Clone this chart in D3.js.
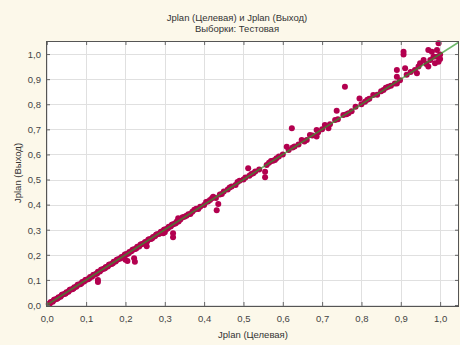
<!DOCTYPE html>
<html>
<head>
<meta charset="utf-8">
<script src="https://cdn.jsdelivr.net/npm/d3@7"></script>
<style>
body{margin:0;background:#fcf8ea;}
svg{display:block;font-family:"Liberation Sans",Arial,sans-serif;}
</style>
</head>
<body>
<script>
const titleText = "Jplan (Целевая) и Jplan (Выход)";
const subtitleText = "Выборки: Тестовая";
const xLabel = "Jplan (Целевая)";
const yLabel = "Jplan (Выход)";
const tickValues = [0,0.1,0.2,0.3,0.4,0.5,0.6,0.7,0.8,0.9,1.0];
const fitLine = [0, 1.06];

const targetVals = [
0.005,0.01,0.015,0.02,0.025,0.03,0.035,0.04,0.045,0.05,0.055,0.06,0.065,0.07,0.075,0.08,0.085,0.09,0.095,0.10,
0.105,0.11,0.115,0.12,0.125,0.13,0.135,0.14,0.145,0.15,0.155,0.16,0.165,0.17,0.175,0.18,0.185,0.19,0.195,0.20,
0.205,0.21,0.215,0.22,0.225,0.23,0.235,0.24,0.245,0.25,0.255,0.26,0.265,0.27,0.275,0.28,0.285,0.29,0.295,0.30,
0.305,0.31,0.315,0.32,0.325,0.33,0.335,0.34,
0.008,0.018,0.028,0.038,0.048,0.058,0.068,0.078,0.088,0.098,0.108,0.118,0.128,0.138,0.148,0.158,0.168,0.178,0.188,0.198,
0.208,0.218,0.228,0.238,0.248,0.258,0.268,0.278,0.288,0.298,0.308,0.318,0.328,0.338,
0.13,0.13,0.20,0.205,0.222,0.224,0.254,0.296,0.30,0.321,0.321,0.334,
0.345,0.35,0.355,0.36,0.365,0.37,0.375,0.38,0.385,0.39,0.40,0.405,0.41,0.415,0.42,0.423,0.43,0.432,0.436,0.44,
0.445,0.45,0.46,0.465,0.47,0.48,0.485,0.49,0.50,0.505,0.512,0.515,0.52,0.525,0.53,0.54,0.555,0.555,0.559,0.565,
0.57,0.575,0.58,0.584,0.59,0.60,0.61,0.615,0.623,0.625,0.63,0.64,0.648,0.655,0.661,
0.669,0.675,0.686,0.686,0.69,0.70,0.707,0.716,0.72,0.733,0.737,0.74,0.754,0.758,0.762,0.767,0.775,0.785,0.795,0.80,
0.809,0.815,0.82,0.83,0.84,0.85,0.856,0.862,0.868,0.875,0.885,0.89,0.89,0.89,0.898,0.907,0.907,0.911,0.915,0.925,
0.936,0.941,0.945,0.949,0.958,0.965,0.97,0.97,0.975,0.979,0.983,0.987,0.992,0.992,0.996,0.996,1.0,1.0
];
const outputVals = [
0.004,0.012,0.013,0.022,0.024,0.031,0.033,0.042,0.044,0.051,0.053,0.062,0.063,0.071,0.073,0.082,0.083,0.092,0.094,0.101,
0.103,0.112,0.113,0.121,0.124,0.132,0.133,0.141,0.144,0.151,0.153,0.161,0.163,0.172,0.173,0.181,0.184,0.191,0.193,0.202,
0.203,0.211,0.214,0.221,0.223,0.232,0.233,0.242,0.244,0.251,0.253,0.262,0.263,0.271,0.274,0.282,0.283,0.292,0.294,0.301,
0.303,0.312,0.313,0.321,0.324,0.332,0.333,0.342,
0.006,0.020,0.027,0.040,0.046,0.060,0.066,0.080,0.086,0.100,0.106,0.120,0.126,0.140,0.146,0.160,0.166,0.180,0.186,0.200,
0.206,0.220,0.226,0.240,0.246,0.260,0.266,0.280,0.286,0.300,0.306,0.320,0.326,0.340,
0.100,0.092,0.180,0.175,0.186,0.172,0.234,0.286,0.290,0.286,0.270,0.346,
0.350,0.352,0.356,0.362,0.363,0.372,0.380,0.384,0.383,0.392,0.398,0.410,0.412,0.418,0.425,0.431,0.426,0.378,0.402,0.440,
0.442,0.452,0.460,0.468,0.472,0.478,0.490,0.495,0.500,0.508,0.545,0.515,0.522,0.525,0.532,0.540,0.531,0.509,0.558,0.567,
0.574,0.575,0.578,0.585,0.592,0.600,0.631,0.618,0.704,0.628,0.632,0.640,0.657,0.652,0.657,
0.677,0.675,0.697,0.671,0.688,0.700,0.717,0.704,0.720,0.737,0.774,0.740,0.757,0.870,0.760,0.764,0.772,0.790,0.823,0.800,
0.810,0.818,0.822,0.837,0.838,0.852,0.857,0.866,0.870,0.874,0.883,0.936,0.910,0.883,0.896,1.009,0.998,0.943,0.918,0.928,
0.936,0.923,0.950,0.963,0.976,0.960,0.950,1.016,0.976,1.009,0.989,0.963,0.989,1.016,0.969,1.043,0.998,0.980
];

const W = 460, H = 345;
const L = 46, R = 459, T = 41, B = 306;

const svg = d3.select("body").append("svg").attr("width", W).attr("height", H);
svg.append("rect").attr("width", W).attr("height", H).attr("fill", "#fcf8ea");

const x = d3.scaleLinear().domain([-0.002, 1.048]).range([L, R]);
const y = d3.scaleLinear().domain([-0.004, 1.052]).range([B, T]);

svg.append("rect").attr("x", L).attr("y", T).attr("width", R - L).attr("height", B - T).attr("fill", "#fff");

// grid
const grid = svg.append("g").attr("stroke", "#e0e0e0").attr("stroke-width", 1);
tickValues.forEach(v => {
  grid.append("line").attr("x1", Math.round(x(v)) + 0.5).attr("x2", Math.round(x(v)) + 0.5).attr("y1", T).attr("y2", B);
  grid.append("line").attr("y1", Math.round(y(v)) + 0.5).attr("y2", Math.round(y(v)) + 0.5).attr("x1", L).attr("x2", R);
});

// points
const pts = targetVals.map((t, i) => ({t, o: outputVals[i]}));
svg.append("g").selectAll("circle").data(pts).join("circle")
  .attr("cx", d => x(d.t)).attr("cy", d => y(d.o)).attr("r", 3)
  .attr("fill", "#b3004f");

// fit line
svg.append("clipPath").attr("id", "clip").append("rect").attr("x", L).attr("y", T).attr("width", R - L).attr("height", B - T);
svg.append("line").attr("clip-path", "url(#clip)")
  .attr("x1", x(fitLine[0])).attr("y1", y(fitLine[0])).attr("x2", x(fitLine[1])).attr("y2", y(fitLine[1]))
  .attr("stroke", "#2f9a2a").attr("stroke-width", 1.6).attr("stroke-opacity", 0.7);

// axes (inward ticks)
const axisColor = "#666";
const fmt = d => d3.format(".1f")(d).replace(".", ",");
const ax = d3.axisBottom(x).tickValues(tickValues).tickSize(-4).tickFormat(fmt);
const ay = d3.axisLeft(y).tickValues(tickValues).tickSize(-4).tickFormat(fmt);
const gx = svg.append("g").attr("transform", `translate(0,${B})`).call(ax);
const gy = svg.append("g").attr("transform", `translate(${L},0)`).call(ay);
const gxt = svg.append("g").attr("transform", `translate(0,${T})`).call(d3.axisTop(x).tickValues(tickValues).tickSize(-4).tickFormat(""));
const gyr = svg.append("g").attr("transform", `translate(${R},0)`).call(d3.axisRight(y).tickValues(tickValues).tickSize(-4).tickFormat(""));
[gx, gy, gxt, gyr].forEach(g => {
  g.select(".domain").remove();
  g.selectAll(".tick line").attr("stroke", axisColor);
  g.selectAll("text").attr("fill", "#444").style("font-size", "9.5px").style("font-family", "'Liberation Sans',Arial,sans-serif");
});
gx.selectAll("text").attr("dy", "0").attr("y", 16);
gy.selectAll("text").attr("x", -5).attr("dy", "0.35em");

svg.append("rect").attr("x", L + 0.5).attr("y", T + 0.5).attr("width", R - L - 1).attr("height", B - T)
  .attr("fill", "none").attr("stroke", "#555");

// titles
svg.append("text").attr("x", 237).attr("y", 21).attr("text-anchor", "middle")
  .style("font-size", "9.5px").attr("fill", "#333").text(titleText);
svg.append("text").attr("x", 237).attr("y", 32).attr("text-anchor", "middle")
  .style("font-size", "9.5px").attr("fill", "#333").text(subtitleText);
svg.append("text").attr("x", 253).attr("y", 338).attr("text-anchor", "middle")
  .style("font-size", "9.5px").attr("fill", "#333").text(xLabel);
svg.append("text").attr("transform", "translate(21,173) rotate(-90)").attr("text-anchor", "middle")
  .style("font-size", "9.5px").attr("fill", "#333").text(yLabel);
</script>
</body>
</html>
